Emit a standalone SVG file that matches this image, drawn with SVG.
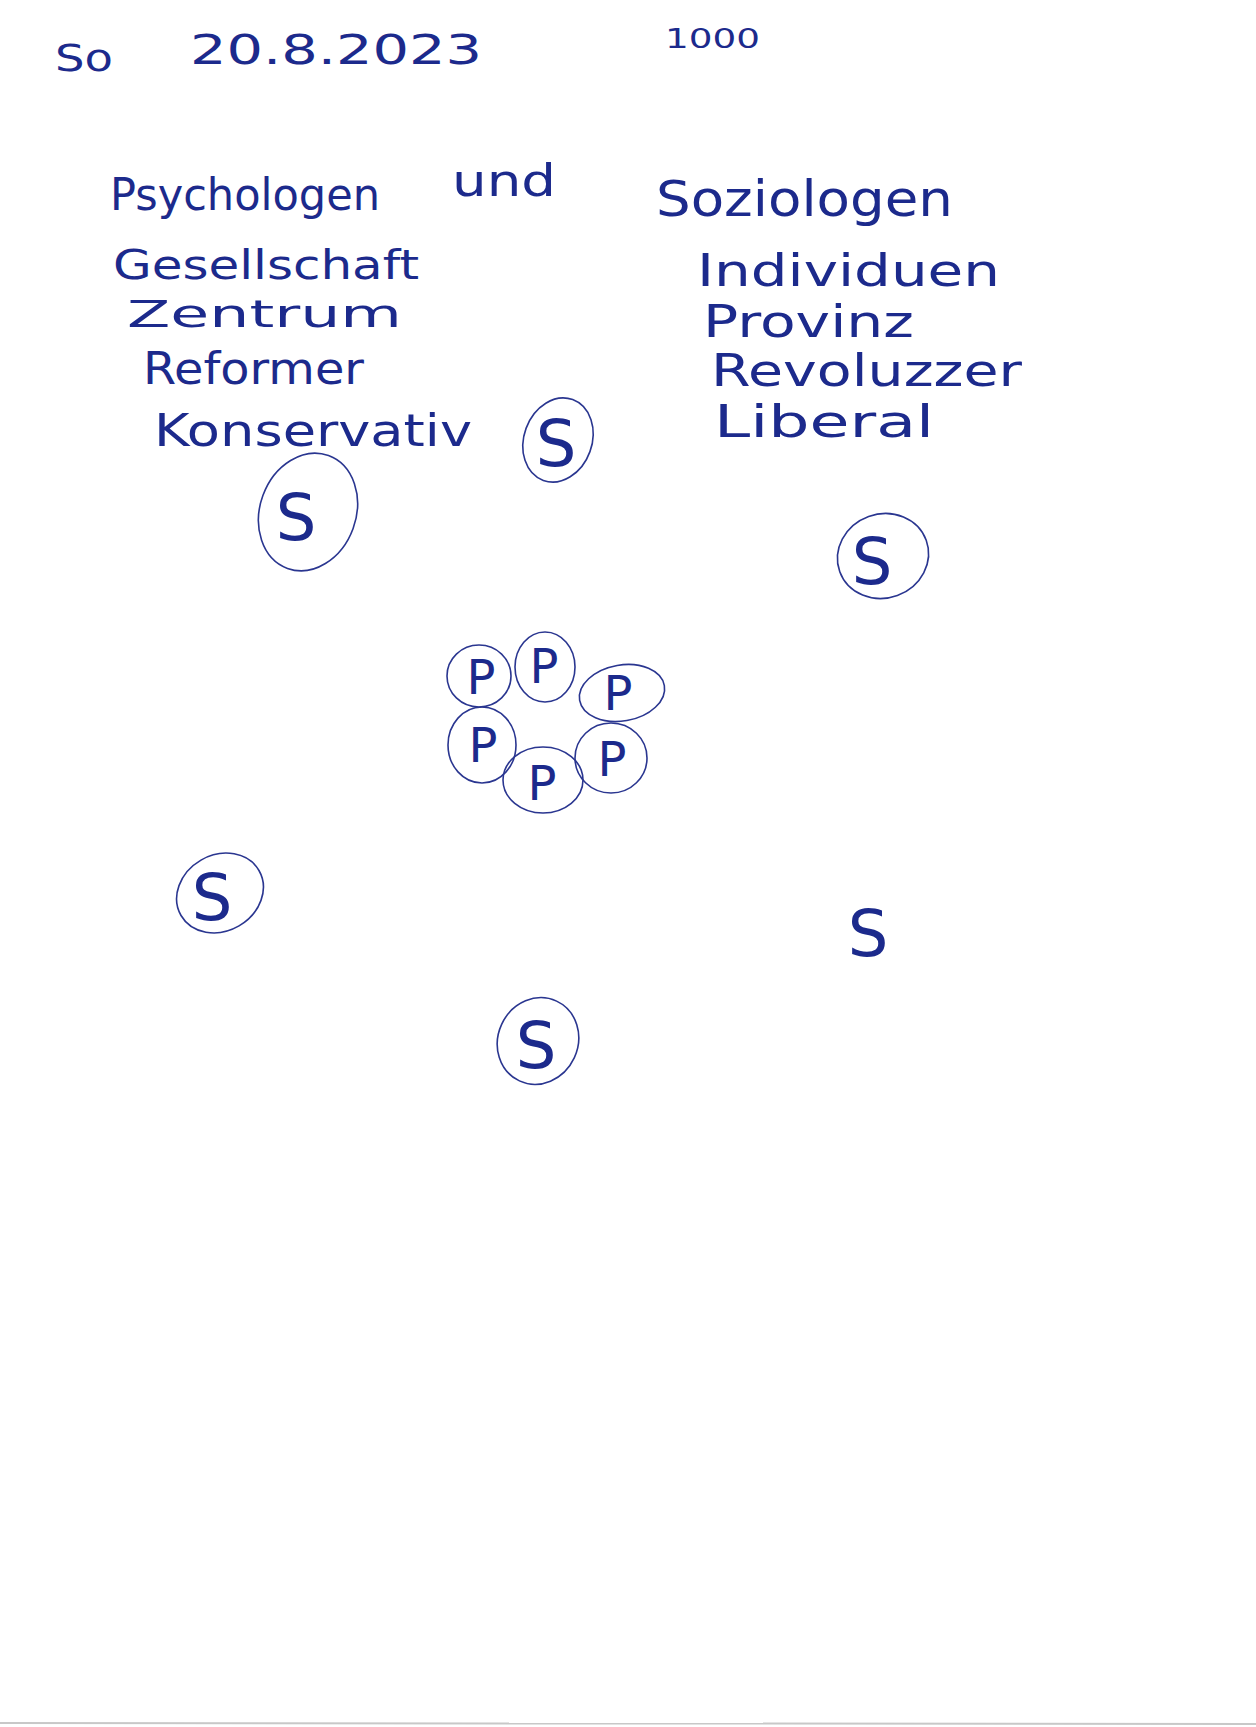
<svg xmlns="http://www.w3.org/2000/svg" width="1256" height="1727" viewBox="0 0 1256 1727">
<style>
.t{font-family:"DejaVu Sans","Liberation Sans",sans-serif;fill:#1c2a8c;}
.h{font-size:44px;}
.ring{fill:none;stroke:#2a3690;stroke-width:1.6;}
.lt{font-family:"DejaVu Sans","Liberation Sans",sans-serif;fill:#1c2a8c;font-size:64px;text-anchor:middle;}
.lp{font-family:"DejaVu Sans","Liberation Sans",sans-serif;fill:#1c2a8c;font-size:48px;text-anchor:middle;}
</style>
<rect width="1256" height="1727" fill="#ffffff"/>
<line x1="0" y1="1723" x2="1256" y2="1724" stroke="#c8c8c8" stroke-width="2"/>

<g id="header">
<text class="t" x="55" y="71" font-size="38" textLength="58" lengthAdjust="spacingAndGlyphs">So</text>
<text class="t" x="190" y="64" font-size="40" textLength="292" lengthAdjust="spacingAndGlyphs">20.8.2023</text>
<text class="t" x="665" y="48" font-size="26" textLength="95" lengthAdjust="spacingAndGlyphs">1000</text>
</g>

<g id="left-column">
<text class="t h" x="110" y="210" textLength="270" lengthAdjust="spacingAndGlyphs">Psychologen</text>
<text class="t" x="113" y="279" font-size="40" textLength="306" lengthAdjust="spacingAndGlyphs">Gesellschaft</text>
<text class="t" x="127" y="327" font-size="38" textLength="275" lengthAdjust="spacingAndGlyphs">Zentrum</text>
<text class="t h" x="143" y="384" textLength="221" lengthAdjust="spacingAndGlyphs">Reformer</text>
<text class="t h" x="154" y="446" textLength="318" lengthAdjust="spacingAndGlyphs">Konservativ</text>
</g>

<g id="und">
<text class="t h" x="452" y="196" textLength="104" lengthAdjust="spacingAndGlyphs">und</text>
</g>

<g id="right-column">
<text class="t" x="656" y="216" font-size="50" textLength="297" lengthAdjust="spacingAndGlyphs">Soziologen</text>
<text class="t h" x="697" y="286" textLength="303" lengthAdjust="spacingAndGlyphs">Individuen</text>
<text class="t h" x="703" y="337" textLength="211" lengthAdjust="spacingAndGlyphs">Provinz</text>
<text class="t h" x="711" y="386" textLength="311" lengthAdjust="spacingAndGlyphs">Revoluzzer</text>
<text class="t h" x="714" y="437" textLength="220" lengthAdjust="spacingAndGlyphs">Liberal</text>
</g>

<g id="s1">
<ellipse class="ring" cx="558" cy="440" rx="34" ry="43" transform="rotate(20 558 440)"/>
<text class="lt" x="556" y="466">S</text>
</g>
<g id="s2">
<ellipse class="ring" cx="308" cy="512" rx="48" ry="60" transform="rotate(20 308 512)"/>
<text class="lt" x="296" y="540">S</text>
</g>
<g id="s3">
<ellipse class="ring" cx="883" cy="556" rx="46" ry="42" transform="rotate(-20 883 556)"/>
<text class="lt" x="872" y="584">S</text>
</g>
<g id="s4">
<ellipse class="ring" cx="220" cy="893" rx="45" ry="38" transform="rotate(-30 220 893)"/>
<text class="lt" x="212" y="920">S</text>
</g>
<g id="s5">
<text class="lt" x="868" y="956">S</text>
</g>
<g id="s6">
<ellipse class="ring" cx="538" cy="1041" rx="40" ry="44" transform="rotate(25 538 1041)"/>
<text class="lt" x="536" y="1068">S</text>
</g>

<g id="p1">
<ellipse class="ring" cx="479" cy="676" rx="32" ry="31"/>
<text class="lp" x="481" y="694">P</text>
</g>
<g id="p2">
<ellipse class="ring" cx="545" cy="667" rx="30" ry="35"/>
<text class="lp" x="544" y="683">P</text>
</g>
<g id="p3">
<ellipse class="ring" cx="622" cy="693" rx="43" ry="28" transform="rotate(-10 622 693)"/>
<text class="lp" x="618" y="710">P</text>
</g>
<g id="p4">
<ellipse class="ring" cx="482" cy="745" rx="34" ry="38"/>
<text class="lp" x="483" y="762">P</text>
</g>
<g id="p5">
<ellipse class="ring" cx="543" cy="780" rx="40" ry="33"/>
<text class="lp" x="542" y="800">P</text>
</g>
<g id="p6">
<ellipse class="ring" cx="611" cy="758" rx="36" ry="35"/>
<text class="lp" x="612" y="776">P</text>
</g>
</svg>
